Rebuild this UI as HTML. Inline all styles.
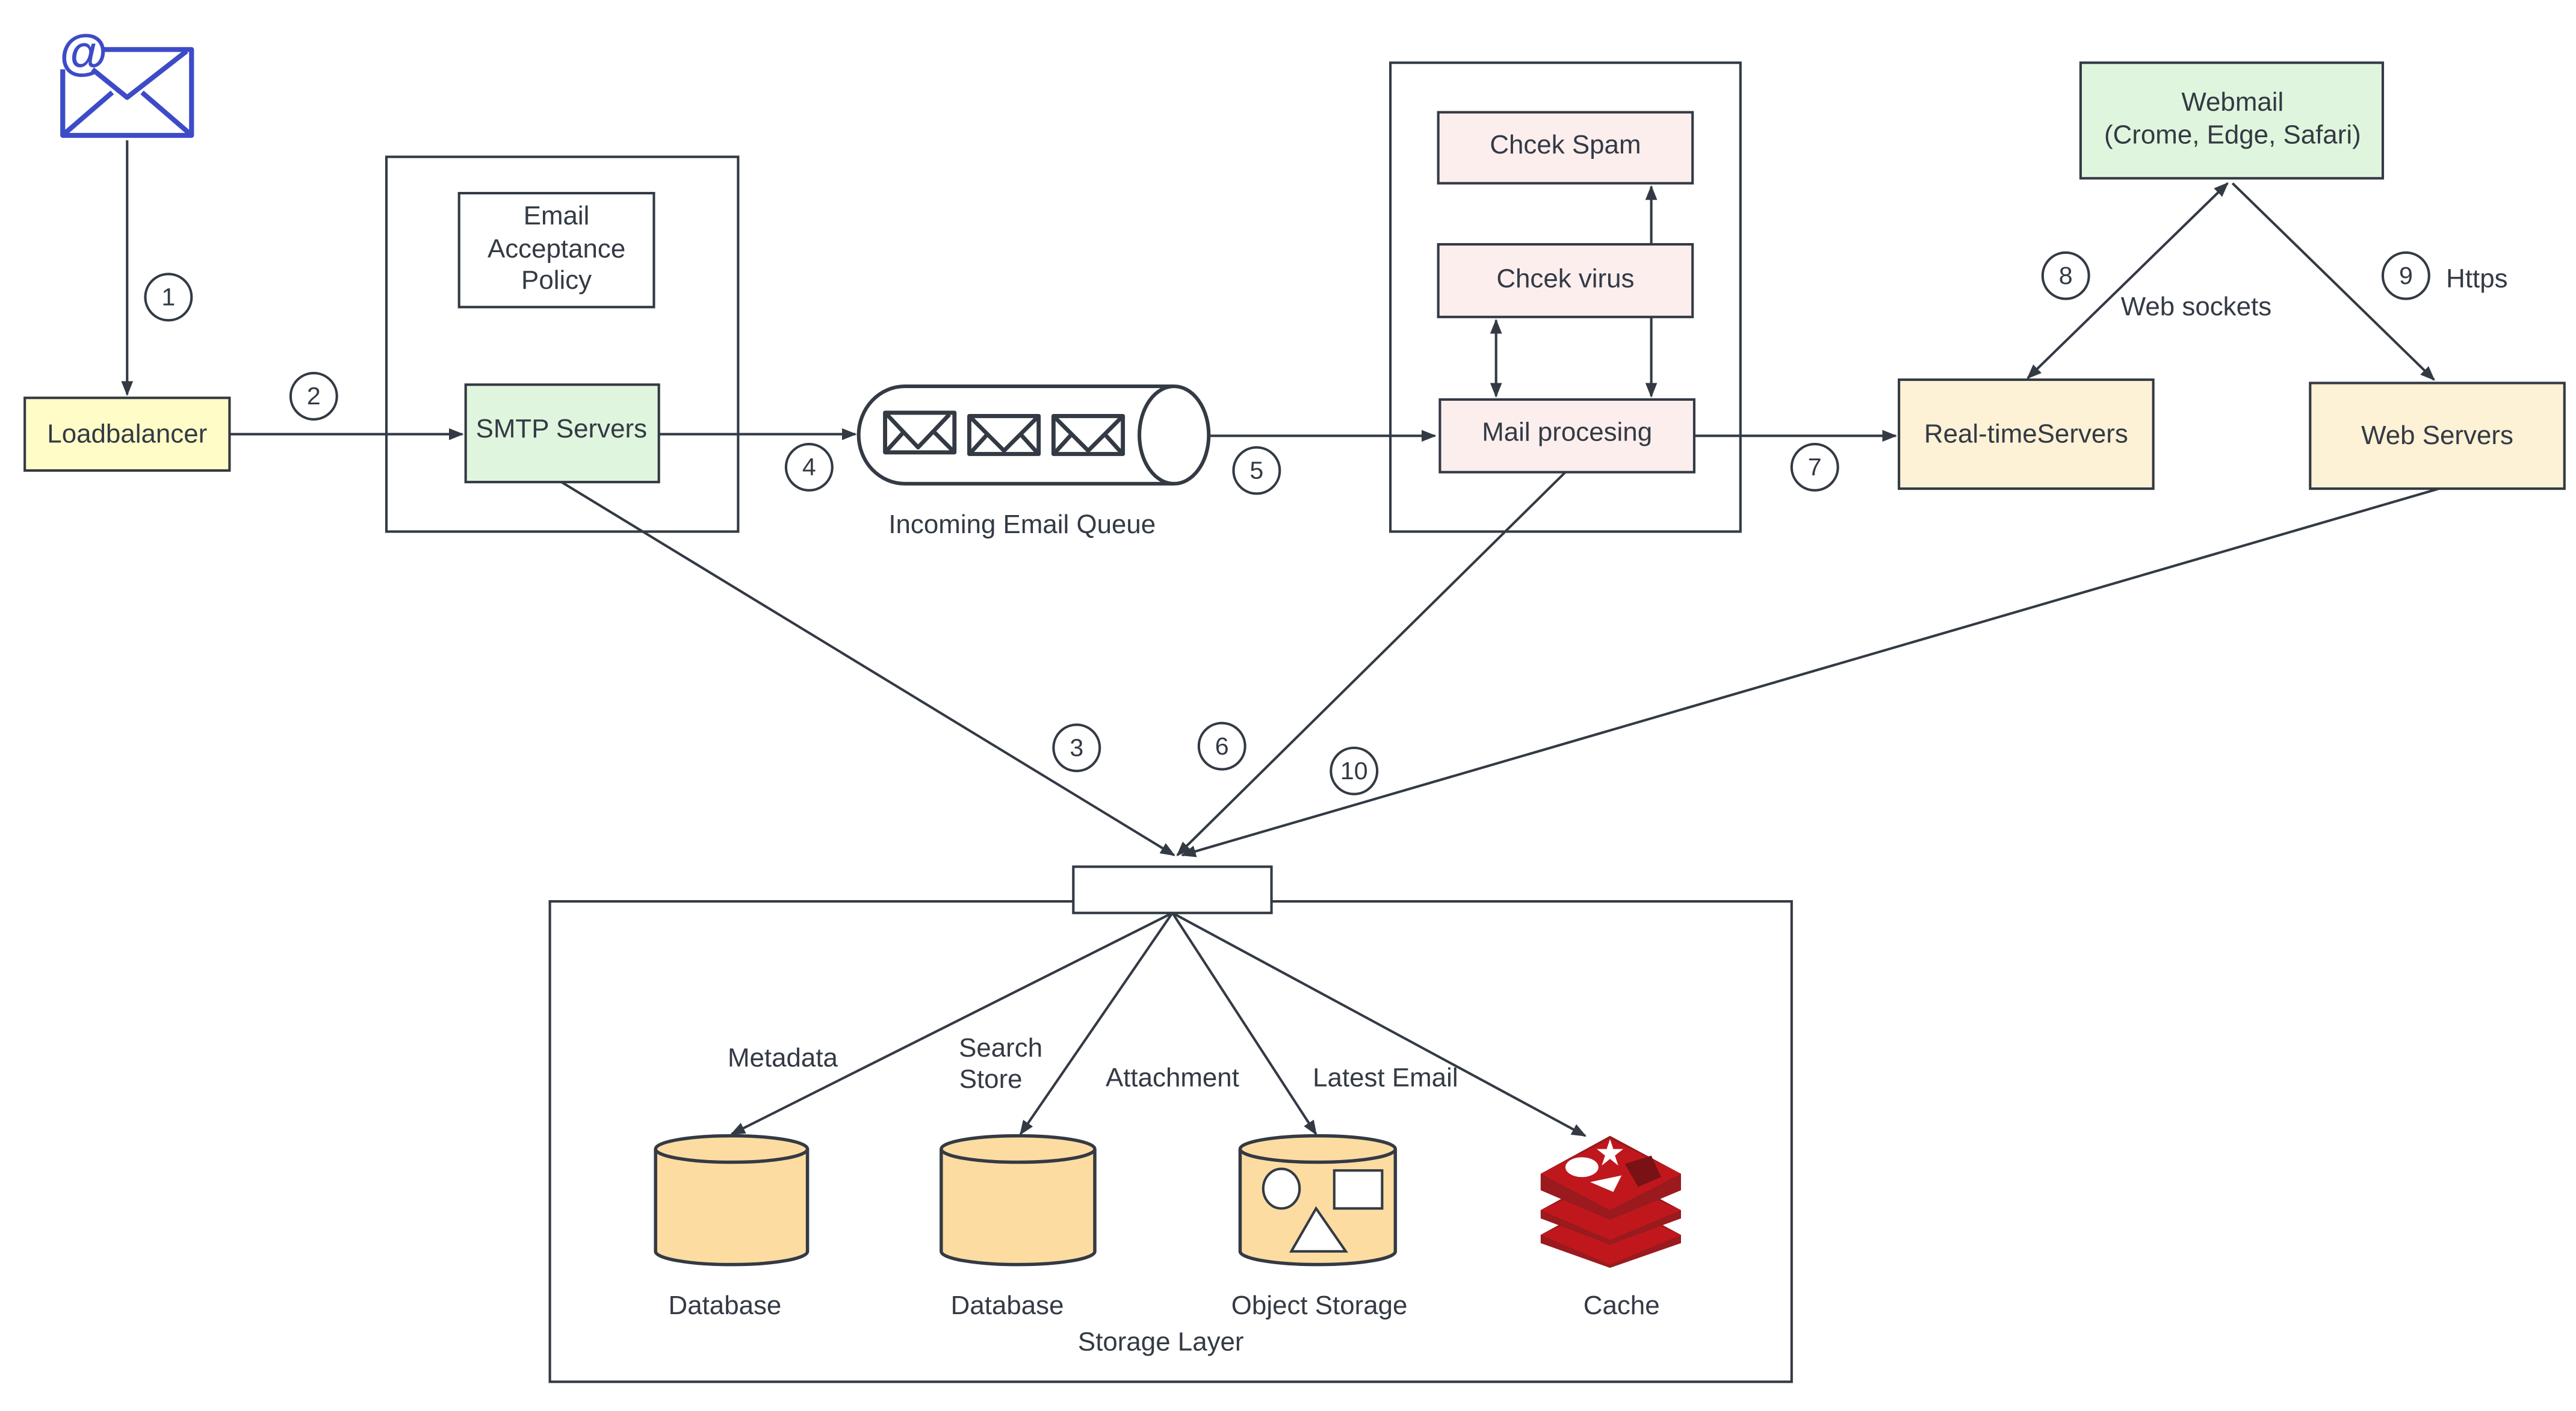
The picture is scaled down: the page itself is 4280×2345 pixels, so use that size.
<!DOCTYPE html>
<html><head><meta charset="utf-8"><style>html,body{margin:0;padding:0;background:#fff}svg{display:block}</style></head><body>
<svg width="4280" height="2345" viewBox="0 0 1560 854.7" preserveAspectRatio="none" xmlns="http://www.w3.org/2000/svg" font-family="Liberation Sans, sans-serif" font-size="16" fill="#333a44">
<defs>
<marker id="a" viewBox="0 0 10 10" refX="9" refY="5" markerWidth="6" markerHeight="6" orient="auto-start-reverse"><path d="M0,1 L10,5 L0,9 z" fill="#333a44"/></marker>
</defs>
<rect width="1560" height="854.7" fill="#fff"/>
<g stroke="#3d4bc8" stroke-width="3" fill="none" stroke-linejoin="round">
<path d="M38,42 V82 H116 V30 H63"/>
<path d="M39,81 L68,56 M115,81 L86,56 M113,31 L77,59 L56,42"/>
</g>
<text x="36" y="42" font-size="30" font-weight="bold" fill="#3d4bc8">@</text>

<g stroke="#333a44" stroke-width="1.5" fill="none">
<line x1="77" y1="85" x2="77" y2="239" marker-end="url(#a)"/>
<line x1="139" y1="263" x2="280" y2="263" marker-end="url(#a)"/>
<line x1="399" y1="263" x2="518" y2="263" marker-end="url(#a)"/>
<line x1="732" y1="264" x2="869" y2="264" marker-end="url(#a)"/>
<line x1="906" y1="240" x2="906" y2="194" marker-end="url(#a)" marker-start="url(#a)"/>
<line x1="1000" y1="240" x2="1000" y2="113" marker-end="url(#a)" marker-start="url(#a)"/>
<line x1="1026" y1="264" x2="1148" y2="264" marker-end="url(#a)"/>
<line x1="1349" y1="111" x2="1228" y2="229" marker-end="url(#a)" marker-start="url(#a)"/>
<line x1="1352" y1="111" x2="1474" y2="230" marker-end="url(#a)"/>
<line x1="340" y1="292" x2="711" y2="518" marker-end="url(#a)"/>
<line x1="948" y1="286" x2="713" y2="518" marker-end="url(#a)"/>
<line x1="1477" y1="296" x2="716" y2="518" marker-end="url(#a)"/>
<line x1="710" y1="553" x2="443" y2="687" marker-end="url(#a)"/>
<line x1="710" y1="553" x2="618" y2="687" marker-end="url(#a)"/>
<line x1="710" y1="553" x2="797" y2="687" marker-end="url(#a)"/>
<line x1="710" y1="553" x2="960" y2="688" marker-end="url(#a)"/>
<rect x="234" y="95" width="213" height="227"/>
<rect x="842" y="38" width="212" height="284"/>
<rect x="333" y="546" width="752" height="291"/>
<rect x="650" y="525" width="120" height="28" fill="#fff"/>
<rect x="278" y="117" width="118" height="69" fill="#fff"/>
<rect x="15" y="241" width="124" height="44" fill="#fffcc7"/>
<rect x="282" y="233" width="117" height="59" fill="#e0f5dd"/>
<rect x="871" y="68" width="154" height="43" fill="#fdeeee"/>
<rect x="871" y="148" width="154" height="44" fill="#fdeeee"/>
<rect x="872" y="242" width="154" height="44" fill="#fdeeee"/>
<rect x="1260" y="38" width="183" height="70" fill="#e0f5dd"/>
<rect x="1150" y="230" width="154" height="66" fill="#fdf1d6"/>
<rect x="1399" y="232" width="154" height="64" fill="#fdf1d6"/>
<path d="M548,234 H711 M548,293 H711 M548,234 A28,29.5 0 0 0 548,293" stroke-width="2.2"/>
<ellipse cx="711" cy="263.5" rx="21" ry="29.5" stroke-width="2.2"/>
<g stroke-width="2.5" stroke-linejoin="round">
<rect x="536" y="250" width="42" height="24"/><path d="M537,251 L556,271 L575,251 M537,273 L547,262 M577,273 L566,262"/>
<rect x="587" y="252" width="42" height="23"/><path d="M588,253 L608,273 L628,253 M588,274 L598,263 M628,274 L618,263"/>
<rect x="638" y="252" width="42" height="23"/><path d="M639,253 L659,273 L679,253 M639,274 L649,263 M679,274 L669,263"/>
</g>
<g fill="#fff">
<circle cx="102" cy="180" r="14"/><circle cx="190" cy="240" r="14"/><circle cx="490" cy="283" r="14"/>
<circle cx="761" cy="285" r="14"/><circle cx="1099" cy="283" r="14"/><circle cx="1251" cy="167" r="14"/>
<circle cx="1457" cy="167" r="14"/><circle cx="652" cy="453" r="14"/><circle cx="740" cy="452" r="14"/>
<circle cx="820" cy="467" r="14"/>
</g>
<g fill="#fddca2" stroke-width="2">
<path d="M397,696 V758 A46,8 0 0 0 489,758 V696"/><ellipse cx="443" cy="696" rx="46" ry="8"/>
<path d="M570,696 V758 A46.5,8 0 0 0 663,758 V696"/><ellipse cx="616.5" cy="696" rx="46.5" ry="8"/>
<path d="M751,696 V758 A47,8 0 0 0 845,758 V696"/><ellipse cx="798" cy="696" rx="47" ry="8"/>
</g>
<g fill="#fff" stroke-width="1.5">
<ellipse cx="776" cy="720" rx="11" ry="12"/>
<rect x="808" y="709" width="29" height="23"/>
<path d="M797,732 L782,758 L815,758 Z"/>
</g>
</g>
<g>
<path d="M933,748 L975,725 L1018,748 L1018,753 L975,768 L933,753 Z" fill="#9a1a1d"/>
<path d="M933,748 L975,730 L1018,748 L975,766 Z" fill="#c0171d"/>
<path d="M933,733 L975,710 L1018,733 L1018,738 L975,754 L933,738 Z" fill="#9a1a1d"/>
<path d="M933,733 L975,715 L1018,733 L975,751 Z" fill="#c0171d"/>
<path d="M933,711 L975,688 L1018,711 L1018,721 L975,739 L933,721 Z" fill="#9a1a1d"/>
<path d="M933,711 L975,690 L1018,711 L975,733 Z" fill="#c0171d"/>
<ellipse cx="958" cy="707" rx="10" ry="6" fill="#fff"/>
<path d="M984,705 L1000,700 L1006,713 L992,719 Z" fill="#7a1215"/>
<path d="M975,690 l2,6 6,0 -5,4 2,6 -5,-4 -5,4 2,-6 -5,-4 6,0 z" fill="#fff"/>
<path d="M963,716 L982,712 L977,722 Z" fill="#fff"/>
</g>
<g text-anchor="middle">
<text x="102" y="185" font-size="15">1</text><text x="190" y="245" font-size="15">2</text><text x="490" y="288" font-size="15">4</text>
<text x="761" y="290" font-size="15">5</text><text x="1099" y="288" font-size="15">7</text><text x="1251" y="172" font-size="15">8</text>
<text x="1457" y="172" font-size="15">9</text><text x="652" y="458" font-size="15">3</text><text x="740" y="457" font-size="15">6</text>
<text x="820" y="472" font-size="15">10</text>
<text x="77" y="268">Loadbalancer</text>
<text x="337" y="136">Email</text><text x="337" y="156">Acceptance</text><text x="337" y="175">Policy</text>
<text x="340" y="265">SMTP Servers</text>
<text x="619" y="323">Incoming Email Queue</text>
<text x="948" y="93">Chcek Spam</text>
<text x="948" y="174">Chcek virus</text>
<text x="949" y="267">Mail procesing</text>
<text x="1352" y="67">Webmail</text><text x="1352" y="87">(Crome, Edge, Safari)</text>
<text x="1227" y="268">Real-timeServers</text>
<text x="1476" y="269">Web Servers</text>
<text x="1330" y="191">Web sockets</text>
<text x="1500" y="174">Https</text>
<text x="474" y="646">Metadata</text>
<text x="606" y="640">Search</text><text x="600" y="659">Store</text>
<text x="710" y="658">Attachment</text>
<text x="839" y="658">Latest Email</text>
<text x="439" y="796">Database</text>
<text x="610" y="796">Database</text>
<text x="799" y="796">Object Storage</text>
<text x="982" y="796">Cache</text>
<text x="703" y="818">Storage Layer</text>
</g>
</svg>
</body></html>
